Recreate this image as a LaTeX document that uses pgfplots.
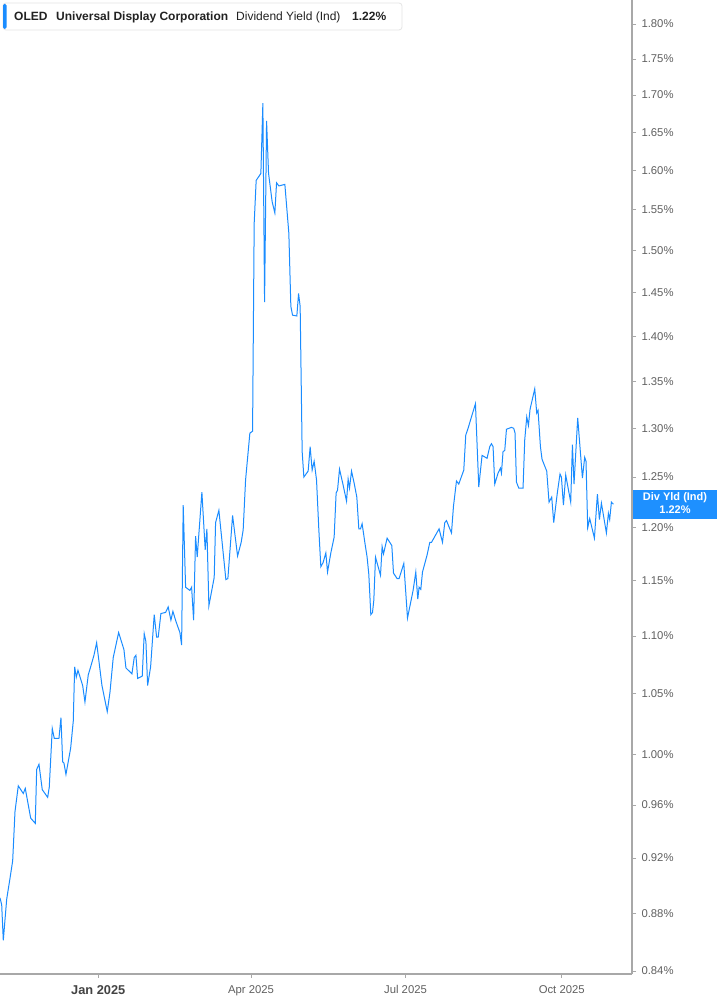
\documentclass[border=0pt]{standalone}
\usepackage{fontspec}
\setmainfont{Liberation Sans}
\usepackage{pgfplots}
\pgfplotsset{compat=1.18}
\usepackage{pgfplotstable}

\definecolor{lineblue}{HTML}{1A8CFF}
\definecolor{tagblue}{HTML}{1E90FF}
\definecolor{axisgray}{HTML}{A8A8A8}
\definecolor{labelgray}{HTML}{606060}
\definecolor{headtext}{HTML}{222222}

% x: days since 1 Jan 2025, yld: dividend yield in percent
\pgfplotstableread{
day yld
-57.87 0.891
-56.87 0.886
-55.93 0.861
-53.93 0.890
-51.99 0.905
-50.40 0.918
-49.04 0.955
-47.10 0.975
-44.16 0.969
-42.98 0.973
-39.80 0.950
-37.09 0.946
-36.27 0.988
-34.91 0.992
-32.97 0.972
-29.79 0.966
-28.85 0.974
-27.08 1.021
-25.91 1.013
-23.14 1.013
-21.96 1.030
-20.96 0.994
-20.19 0.993
-19.02 0.984
-16.25 1.005
-14.72 1.027
-13.89 1.073
-12.95 1.064
-11.95 1.070
-9.18 1.057
-7.83 1.043
-5.89 1.066
-4.47 1.073
-2.53 1.083
-0.94 1.094
2.18 1.057
5.30 1.035
6.89 1.051
8.83 1.081
12.01 1.103
15.13 1.088
16.31 1.072
19.84 1.067
21.20 1.081
22.20 1.083
23.20 1.063
25.91 1.065
27.08 1.102
28.08 1.095
29.08 1.057
30.85 1.073
32.97 1.119
34.38 1.099
35.33 1.099
36.91 1.120
39.68 1.121
41.21 1.126
42.80 1.114
43.98 1.122
45.75 1.113
48.10 1.103
49.10 1.092
50.04 1.222
51.46 1.144
53.99 1.141
54.99 1.144
56.17 1.114
57.34 1.192
58.29 1.172
61.05 1.235
63.00 1.179
64.00 1.199
65.17 1.127
68.30 1.153
69.12 1.205
71.06 1.217
75.18 1.151
76.36 1.152
79.13 1.212
82.07 1.173
84.19 1.186
85.37 1.198
86.78 1.247
89.31 1.295
90.90 1.297
91.85 1.533
93.02 1.587
95.79 1.596
96.97 1.689
97.97 1.439
99.15 1.665
100.32 1.596
102.44 1.560
104.03 1.546
105.03 1.584
106.39 1.580
109.92 1.582
112.27 1.521
113.45 1.434
114.45 1.424
116.98 1.423
117.99 1.449
118.93 1.434
120.11 1.276
121.11 1.250
123.64 1.256
124.82 1.281
125.99 1.257
127.17 1.266
128.58 1.247
129.94 1.198
131.11 1.163
132.47 1.167
134.06 1.176
135.06 1.158
137.00 1.176
138.95 1.191
140.12 1.234
140.95 1.237
142.12 1.258
144.24 1.242
146.25 1.226
147.19 1.248
148.01 1.239
149.19 1.256
150.72 1.244
152.31 1.230
153.49 1.199
154.49 1.199
155.43 1.204
157.02 1.186
158.37 1.172
159.37 1.156
160.55 1.119
161.55 1.121
162.32 1.132
163.32 1.172
166.26 1.155
167.21 1.182
168.03 1.175
170.15 1.190
172.92 1.183
173.92 1.157
176.04 1.152
177.21 1.152
179.98 1.166
182.16 1.116
185.46 1.141
187.04 1.158
188.22 1.133
188.99 1.144
189.99 1.142
190.99 1.158
193.70 1.174
195.29 1.186
196.29 1.186
200.76 1.199
202.77 1.186
204.12 1.205
205.12 1.207
208.07 1.195
209.24 1.221
211.01 1.246
212.36 1.243
215.31 1.257
216.48 1.293
217.84 1.300
219.84 1.312
222.19 1.326
224.14 1.240
226.08 1.272
229.02 1.269
230.61 1.281
231.61 1.284
232.56 1.281
233.56 1.243
235.50 1.254
236.91 1.259
237.50 1.254
238.44 1.276
239.44 1.277
240.45 1.299
243.39 1.301
244.74 1.300
245.51 1.295
246.33 1.245
247.69 1.239
250.22 1.239
251.22 1.288
252.40 1.312
253.40 1.303
254.34 1.320
257.11 1.342
258.28 1.316
259.05 1.319
260.46 1.281
261.41 1.268
264.17 1.256
265.53 1.225
267.11 1.230
268.29 1.205
270.47 1.235
272.00 1.253
272.83 1.250
274.01 1.222
275.36 1.252
278.30 1.225
279.30 1.283
280.25 1.243
282.42 1.311
285.19 1.249
286.54 1.270
287.31 1.266
288.31 1.200
289.49 1.209
292.26 1.190
294.02 1.233
295.20 1.208
296.38 1.224
299.32 1.195
300.50 1.214
301.26 1.208
302.27 1.225
303.44 1.223
}\yielddata

\begin{document}
\begin{tikzpicture}
\useasboundingbox[fill=white] (0pt,0pt) rectangle (717pt,1005pt);
\begin{axis}[
  at={(0pt,31pt)}, anchor=south west, scale only axis,
  width=632pt, height=974pt,
  xmin=-57.87, xmax=314.4,
  ymode=log, ymin=0.838, ymax=1.835,
  axis x line=bottom, axis y line=right,
  axis line style={-, draw=axisgray, line width=1.1pt},
  tick align=outside, major tick length=4pt,
  tick style={draw=axisgray, line width=0.8pt},
  xtick={0,90,181,273},
  xticklabels={{\fontsize{12.8}{14}\selectfont\bfseries\color{headtext!85} Jan 2025},Apr 2025,Jul 2025,Oct 2025},
  ytick={0.84,0.88,0.92,0.96,1.00,1.05,1.10,1.15,1.20,1.25,1.30,1.35,1.40,1.45,1.50,1.55,1.60,1.65,1.70,1.75,1.80},
  yticklabels={0.84\%,0.88\%,0.92\%,0.96\%,1.00\%,1.05\%,1.10\%,1.15\%,1.20\%,1.25\%,1.30\%,1.35\%,1.40\%,1.45\%,1.50\%,1.55\%,1.60\%,1.65\%,1.70\%,1.75\%,1.80\%},
  tick label style={font=\fontsize{11.3}{13}\selectfont, text=labelgray},
  xticklabel style={yshift=-4pt},
  yticklabel style={xshift=2pt},
]
\addplot[lineblue, line width=1pt, mark=none] table[x=day, y=yld] {\yielddata};
\end{axis}

% header box
\draw[draw=black!10, fill=white, rounded corners=3pt, line width=0.8pt] (3pt,975pt) rectangle (402pt,1002pt);
\fill[lineblue, rounded corners=1.5pt] (3pt,976pt) rectangle (6.5pt,1001pt);
\node[anchor=base west, inner sep=0, font=\fontsize{12}{14}\selectfont\bfseries, text=headtext] at (14pt,984pt) {OLED};
\node[anchor=base west, inner sep=0, font=\fontsize{12}{14}\selectfont\bfseries, text=headtext] at (56pt,984pt) {Universal Display Corporation};
\node[anchor=base west, inner sep=0, font=\fontsize{12}{14}\selectfont, text=headtext] at (236pt,984pt) {Dividend Yield (Ind)};
\node[anchor=base west, inner sep=0, font=\fontsize{12}{14}\selectfont\bfseries, text=headtext] at (352pt,984pt) {1.22\%};

% current value tag
\fill[tagblue] (633pt,486pt) rectangle (717pt,515pt);
\node[font=\fontsize{11}{12}\selectfont\bfseries, text=white, inner sep=0] at (675pt,507pt) {Div Yld (Ind)};
\node[font=\fontsize{11}{12}\selectfont\bfseries, text=white, inner sep=0] at (675pt,495pt) {1.22\%};
\end{tikzpicture}
\end{document}
